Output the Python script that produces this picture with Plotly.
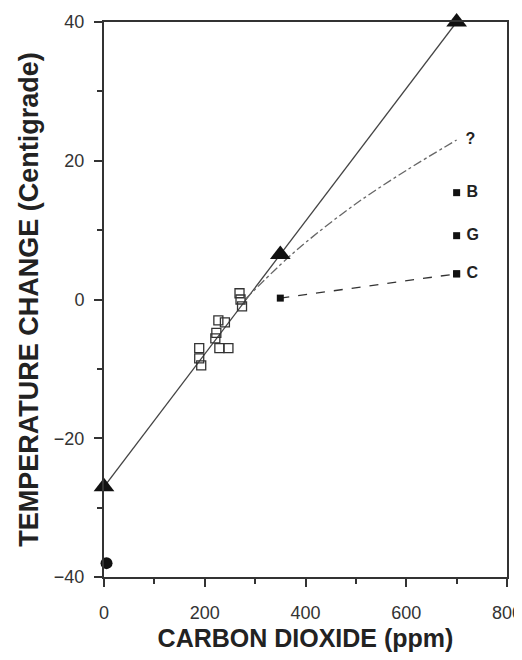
import plotly.graph_objects as go

# Ice-core data (open squares)
ice_co2 = [269, 271, 274, 227, 240, 223, 221, 189, 229, 247, 189, 193]
ice_temp = [0.9, 0.0, -1.0, -3.0, -3.3, -4.8, -5.6, -7.0, -7.0, -7.0, -8.5, -9.5]

# Solid line with triangles
tri_co2 = [0, 350, 700]
tri_temp = [-27, 6.5, 40]

# Dash-dot "?" curve
q_co2 = [280, 350, 400, 500, 600, 700]
q_temp = [0.0, 5.0, 8.2, 13.8, 18.6, 23.0]

# Dashed "C" line
c_co2 = [350, 700]
c_temp = [0.2, 3.7]

# Labeled model points
lab_co2 = [700, 700]
lab_temp = [15.4, 9.2]
lab_text = ["B", "G"]
c_label = "C"
q_label = "?"

# Filled circle
circ_co2 = [5]
circ_temp = [-38]

FONT = "Liberation Sans"
lab_font = dict(family=FONT, size=16, color="#222")

fig = go.Figure()

fig.add_trace(go.Scatter(x=tri_co2, y=tri_temp, mode="lines",
                         line=dict(color="#444", width=1.3)))
fig.add_trace(go.Scatter(x=q_co2, y=q_temp, mode="lines", line_shape="spline",
                         line=dict(color="#666", width=1.3, dash="dashdot")))
fig.add_trace(go.Scatter(x=c_co2, y=c_temp, mode="lines+markers",
                         line=dict(color="#333", width=1.3, dash="dash"),
                         marker=dict(symbol="square", size=7, color="#111")))
fig.add_trace(go.Scatter(x=ice_co2, y=ice_temp, mode="markers",
                         marker=dict(symbol="square-open", size=9, color="#333",
                                     line=dict(width=1.3))))
fig.add_trace(go.Scatter(x=tri_co2, y=tri_temp, mode="markers",
                         marker=dict(symbol="triangle-up", size=18, color="#111")))
fig.add_trace(go.Scatter(x=lab_co2, y=lab_temp, mode="markers+text",
                         text=["<b> " + t + "</b>" for t in lab_text], textposition="middle right",
                         textfont=lab_font,
                         marker=dict(symbol="square", size=7, color="#111")))
fig.add_trace(go.Scatter(x=[c_co2[-1]], y=[c_temp[-1]], mode="markers+text",
                         text=["<b> " + c_label + "</b>"], textposition="middle right",
                         textfont=lab_font,
                         marker=dict(symbol="square", size=7, color="#111")))
fig.add_trace(go.Scatter(x=[q_co2[-1]], y=[q_temp[-1]], mode="text",
                         text=["<b>  " + q_label + "</b>"], textposition="middle right",
                         textfont=lab_font))
fig.add_trace(go.Scatter(x=circ_co2, y=circ_temp, mode="markers",
                         marker=dict(symbol="circle", size=12, color="#111")))

for tr in fig.data:
    tr.cliponaxis = False

axis_common = dict(showgrid=False, zeroline=False, showline=True, linecolor="#333",
                   linewidth=2, mirror=True, ticks="outside", ticklen=8, tickwidth=1.5,
                   tickcolor="#333", automargin=False,
                   tickfont=dict(family=FONT, size=18, color="#333"))

fig.update_xaxes(range=[0, 800], tickvals=[0, 200, 400, 600, 800],
                 ticklabelstandoff=10,
                 minor=dict(ticks="outside", ticklen=5, tickwidth=1.5, tickcolor="#333", dtick=100, tick0=0),
                 title=dict(text="<b>CARBON DIOXIDE (ppm)</b>", standoff=10,
                            font=dict(family=FONT, size=25, color="#222")),
                 **axis_common)
fig.update_yaxes(range=[-40, 40], tickvals=[-40, -20, 0, 20, 40],
                 ticklabelstandoff=6,
                 minor=dict(ticks="outside", ticklen=5, tickwidth=1.5, tickcolor="#333", dtick=10, tick0=0),
                 title=dict(text="<b>TEMPERATURE CHANGE (Centigrade)</b>", standoff=7,
                            font=dict(family=FONT, size=27, color="#222")),
                 **axis_common)

fig.update_layout(width=522, height=644, showlegend=False,
                  margin=dict(l=96, r=23, t=14, b=75),
                  plot_bgcolor="white", paper_bgcolor="white")

fig.write_html("out.html")
